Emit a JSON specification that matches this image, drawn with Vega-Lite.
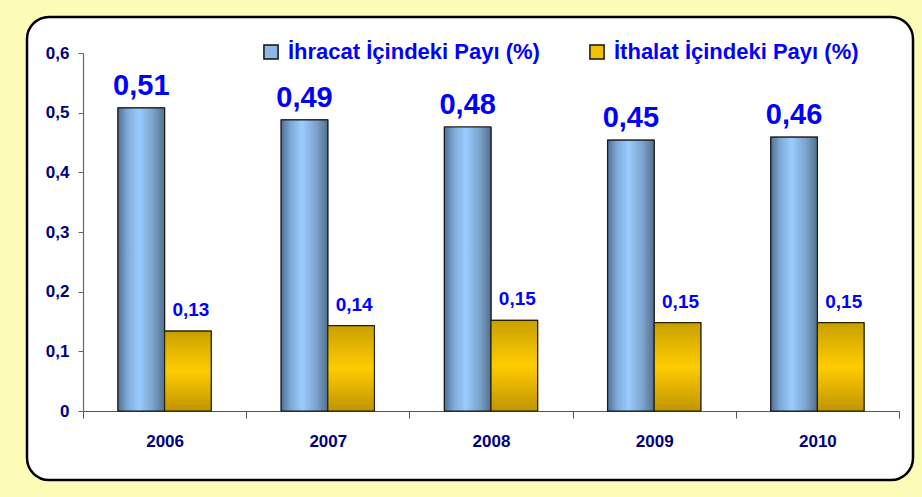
{
  "$schema": "https://vega.github.io/schema/vega-lite/v6.json",
  "width": 886,
  "height": 463,
  "autosize": {"type": "none"},
  "padding": {"left": 27, "top": 17, "right": 9, "bottom": 17},
  "background": "#fdfbb8",
  "data": {
    "values": [
      {"year": "2006", "series": "İhracat İçindeki Payı (%)", "value": 0.508},
      {"year": "2007", "series": "İhracat İçindeki Payı (%)", "value": 0.488},
      {"year": "2008", "series": "İhracat İçindeki Payı (%)", "value": 0.476},
      {"year": "2009", "series": "İhracat İçindeki Payı (%)", "value": 0.454},
      {"year": "2010", "series": "İhracat İçindeki Payı (%)", "value": 0.459},
      {"year": "2006", "series": "İthalat İçindeki Payı (%)", "value": 0.134},
      {"year": "2007", "series": "İthalat İçindeki Payı (%)", "value": 0.143},
      {"year": "2008", "series": "İthalat İçindeki Payı (%)", "value": 0.152},
      {"year": "2009", "series": "İthalat İçindeki Payı (%)", "value": 0.148},
      {"year": "2010", "series": "İthalat İçindeki Payı (%)", "value": 0.148}
    ]
  },
  "encoding": {
    "x": {
      "field": "year", "type": "nominal",
      "scale": {"range": [56, 872], "paddingInner": 0, "paddingOuter": 0},
      "axis": {
        "title": null, "orient": "bottom", "offset": -69, "labelAngle": 0,
        "tickBand": "extent", "tickSize": 7, "labelPadding": 15,
        "labelFont": "Liberation Sans", "labelFontWeight": "bold", "labelFontSize": 17, "labelColor": "#000080",
        "domainColor": "#555555", "tickColor": "#555555", "domainWidth": 1.2
      }
    },
    "xOffset": {
      "field": "series", "type": "nominal",
      "scale": {"domain": ["İhracat İçindeki Payı (%)", "İthalat İçindeki Payı (%)"], "paddingInner": 0, "paddingOuter": 0.75}
    },
    "y": {
      "field": "value", "type": "quantitative",
      "scale": {"domain": [0, 0.6], "range": [394, 36], "nice": false},
      "axis": {
        "title": null, "orient": "left", "offset": -56, "grid": false,
        "values": [0, 0.1, 0.2, 0.3, 0.4, 0.5, 0.6], "format": ".1~f",
        "tickSize": 5, "labelPadding": 9,
        "labelFont": "Liberation Sans", "labelFontWeight": "bold", "labelFontSize": 17, "labelColor": "#000080",
        "domainColor": "#666666", "tickColor": "#666666", "domainWidth": 1.2
      }
    }
  },
  "layer": [
    {
      "mark": {"type": "bar", "stroke": "#222222", "strokeWidth": 1},
      "encoding": {
        "color": {
          "field": "series", "type": "nominal",
          "scale": {"domain": ["İhracat İçindeki Payı (%)", "İthalat İçindeki Payı (%)"], "range": ["#8db8e6", "#f2c200"]},
          "legend": {
            "title": null, "orient": "none", "legendX": 233, "legendY": 24, "direction": "horizontal",
            "symbolType": "square", "symbolSize": 200, "symbolStrokeColor": "#111111", "symbolStrokeWidth": 1.5,
            "labelFont": "Liberation Sans", "labelFontWeight": "bold", "labelFontSize": 22, "labelColor": "#0000ff",
            "labelOffset": 6, "columnPadding": 46, "labelLimit": 400
          }
        }
      }
    },
    {
      "transform": [{"filter": {"field": "series", "equal": "İhracat İçindeki Payı (%)"}}],
      "mark": {
        "type": "bar", "stroke": "#1a1a1a", "strokeWidth": 1.2,
        "fill": {"gradient": "linear", "x1": 0, "x2": 1, "y1": 0, "y2": 0,
          "stops": [
            {"offset": 0, "color": "#4f6f94"},
            {"offset": 0.2, "color": "#7ea9d6"},
            {"offset": 0.45, "color": "#99ccff"},
            {"offset": 0.75, "color": "#7da3cc"},
            {"offset": 1, "color": "#52708f"}
          ]}
      }
    },
    {
      "transform": [{"filter": {"field": "series", "equal": "İthalat İçindeki Payı (%)"}}],
      "mark": {
        "type": "bar", "stroke": "#2a2200", "strokeWidth": 1.2,
        "fill": {"gradient": "linear", "x1": 0, "x2": 0, "y1": 0, "y2": 1,
          "stops": [
            {"offset": 0, "color": "#c8a000"},
            {"offset": 0.5, "color": "#ffcc00"},
            {"offset": 1, "color": "#c09400"}
          ]}
      }
    },
    {
      "transform": [{"filter": {"field": "series", "equal": "İhracat İçindeki Payı (%)"}}],
      "mark": {"type": "text", "font": "Liberation Sans", "fontWeight": "bold", "fontSize": 29, "color": "#0000ff", "baseline": "alphabetic", "dy": -13},
      "encoding": {"text": {"field": "value", "type": "quantitative", "format": ".2f"}}
    },
    {
      "transform": [{"filter": {"field": "series", "equal": "İthalat İçindeki Payı (%)"}}],
      "mark": {"type": "text", "font": "Liberation Sans", "fontWeight": "bold", "fontSize": 19, "color": "#0000ff", "baseline": "alphabetic", "dy": -15, "dx": 3},
      "encoding": {"text": {"field": "value", "type": "quantitative", "format": ".2f"}}
    }
  ],
  "config": {
    "locale": {"number": {"decimal": ",", "thousands": ".", "grouping": [3], "currency": ["", " TL"]}},
    "view": {"fill": "white", "stroke": "#000000", "strokeWidth": 2.5, "cornerRadius": 22}
  }
}
